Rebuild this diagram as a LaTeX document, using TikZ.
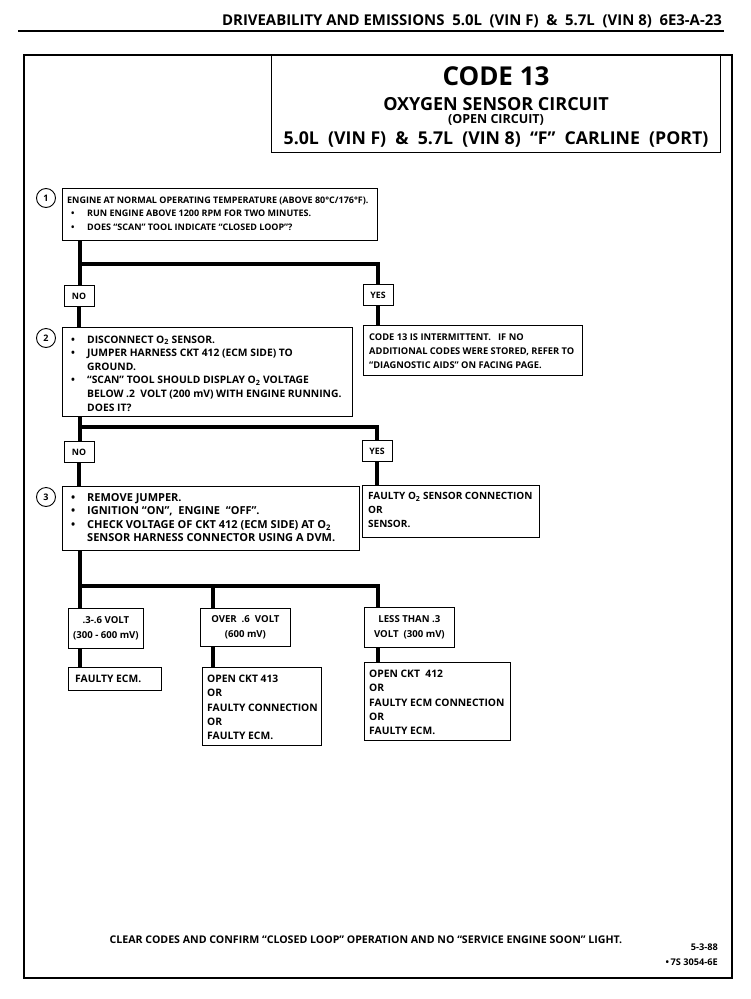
\documentclass[tikz,border=0pt]{standalone}
\usepackage{fontspec}
\setmainfont{Open Sans}
\newcommand{\bul}{\makebox[20pt][l]{\hspace{4pt}\textbullet}}
\newcommand{\ind}{\hspace{20pt}}
\newcommand{\Otwo}{O\textsubscript{2}}
\newcommand{\fs}[1]{\bfseries\fontsize{#1}{13.6}\selectfont}
\newcommand{\fsl}[1]{\bfseries\fontsize{#1}{14.3}\selectfont}
\begin{document}
\begin{tikzpicture}[x=1pt,y=-1pt,
  box/.style={draw, line width=0.8pt, inner sep=0pt, anchor=north west},
  cbox/.style={box, align=center, font=\bfseries\fontsize{9.6}{14.5}\selectfont},
  txt/.style={align=left, anchor=north west, inner sep=0pt},
  lbl/.style={draw, line width=0.8pt, inner sep=0pt, minimum width=30pt, minimum height=21pt, font=\bfseries\fontsize{8.8}{10}\selectfont},
  num/.style={draw, circle, line width=0.9pt, minimum size=19pt, inner sep=0pt, font=\bfseries\fontsize{9}{10}\selectfont},
  conn/.style={line width=3.6pt, line join=miter}]
\useasboundingbox (0,0) rectangle (750,999);
% header
\node[anchor=base east, inner sep=0pt, font=\bfseries\fontsize{14.9}{15}\selectfont] (hdr) at (722,25)
  {DRIVEABILITY AND EMISSIONS\ \ 5.0L\ \ (VIN F)\ \ \&\ \ 5.7L\ \ (VIN 8)\ \ 6E3-A-23};
\draw[line width=1.3pt] (18,31) -- (724,31);
% frame
\draw[line width=1.8pt] (24,55) rectangle (732,978);
\node[box, line width=1.2pt, minimum width=449pt, minimum height=97pt] (title) at (271,55) {};
\node[font=\bfseries\fontsize{26}{26}\selectfont] (code) at (496,76) {CODE 13};
\node[anchor=base, inner sep=0pt, font=\bfseries\fontsize{18}{18}\selectfont] (oxy) at (496,110) {OXYGEN SENSOR CIRCUIT};
\node[anchor=base, inner sep=0pt, font=\bfseries\fontsize{12.5}{13}\selectfont] (open) at (496,123.5) {(OPEN CIRCUIT)};
\node[font=\bfseries\fontsize{17.7}{18}\selectfont] (car) at (496,139)
  {5.0L\ \ (VIN F)\ \ \&\ \ 5.7L\ \ (VIN 8)\ \ “F”\ \ CARLINE\ \ (PORT)};
% step 1
\node[num] (c1) at (46,198) {1};
\node[box, minimum width=315pt, minimum height=52pt] (b1) at (62,188) {};
\node[txt, font=\fs{9.0}] (t1) at (67,196.5) {ENGINE AT NORMAL OPERATING TEMPERATURE (ABOVE 80°C/176°F).\\
  \bul RUN ENGINE ABOVE 1200 RPM FOR TWO MINUTES.\\
  \bul DOES “SCAN” TOOL INDICATE “CLOSED LOOP”?};
\coordinate (j1) at (80,264);
\node[lbl] (no1) at (79,296) {NO};
\node[lbl] (yes1) at (378,295) {YES};
% yes 1 result
\node[box, minimum width=219pt, minimum height=50pt] (r1) at (363,325) {};
\node[txt, font=\fs{9.3}] (tr1) at (369,334) {CODE 13 IS INTERMITTENT.\ \ \ IF NO\\
  ADDITIONAL CODES WERE STORED, REFER TO\\
  “DIAGNOSTIC AIDS” ON FACING PAGE.};
% step 2
\node[num] (c2) at (46,338) {2};
\node[box, minimum width=290pt, minimum height=89pt] (b2) at (62,327) {};
\node[txt, font=\fs{10.3}] (t2) at (67,335.5) {\bul DISCONNECT \Otwo{} SENSOR.\\
  \bul JUMPER HARNESS CKT 412 (ECM SIDE) TO\\
  \ind GROUND.\\
  \bul “SCAN” TOOL SHOULD DISPLAY \Otwo{} VOLTAGE\\
  \ind BELOW .2\ \ VOLT (200 mV) WITH ENGINE RUNNING.\\
  \ind DOES IT?};
\coordinate (j2) at (80,427);
\node[lbl] (no2) at (79,452) {NO};
\node[lbl] (yes2) at (377,451) {YES};
% yes 2 result
\node[box, minimum width=177pt, minimum height=52pt] (r2) at (362,485) {};
\node[txt, font=\fs{10}] (tr2) at (368,492.5) {FAULTY \Otwo{} SENSOR CONNECTION\\ OR\\ SENSOR.};
% step 3
\node[num] (c3) at (46,497) {3};
\node[box, minimum width=297pt, minimum height=64pt] (b3) at (62,486) {};
\node[txt, font=\fs{11}] (t3) at (67,493) {\bul REMOVE JUMPER.\\
  \bul IGNITION “ON”,\ \ ENGINE\ \ “OFF”.\\
  \bul CHECK VOLTAGE OF CKT 412 (ECM SIDE) AT \Otwo\\
  \ind SENSOR HARNESS CONNECTOR USING A DVM.};
\coordinate (j3) at (80,586);
% voltage boxes
\node[cbox, minimum width=75pt, minimum height=40pt] (va) at (68,608) {.3-.6 VOLT\\(300 - 600 mV)};
\node[cbox, minimum width=90pt, minimum height=38pt] (vb) at (200,608) {OVER\ \ .6\ \ VOLT\\(600 mV)};
\node[cbox, minimum width=90pt, minimum height=40pt] (vc) at (364,607) {LESS THAN .3\\VOLT\ \ (300 mV)};
\coordinate (xb) at (213,586);
\coordinate (xc) at (378,586);
% results
\node[box, minimum width=93pt, minimum height=23pt] (ra) at (68,667) {};
\node[txt, font=\fs{10.3}] (tra) at (75,674.5) {FAULTY ECM.};
\node[box, minimum width=119pt, minimum height=78pt] (rb) at (202,667) {};
\node[txt, font=\fsl{10.3}] (trb) at (207,675) {OPEN CKT 413\\ OR\\ FAULTY CONNECTION\\ OR\\ FAULTY ECM.};
\node[box, minimum width=146pt, minimum height=78pt] (rc) at (364,662) {};
\node[txt, font=\fsl{10.3}] (trc) at (369,670) {OPEN CKT\ \ 412\\ OR\\ FAULTY ECM CONNECTION\\ OR\\ FAULTY ECM.};
% connectors
\draw[conn] (b1.south -| j1) -- (j1) -| (yes1.north);
\draw[conn] (j1) -- (j1 |- no1.north);
\draw[conn] (no1.south) -- (no1.south |- b2.north);
\draw[conn] (yes1.south) -- (yes1.south |- r1.north);
\draw[conn] (b2.south -| j2) -- (j2) -| (yes2.north);
\draw[conn] (j2) -- (j2 |- no2.north);
\draw[conn] (no2.south) -- (no2.south |- b3.north);
\draw[conn] (yes2.south) -- (yes2.south |- r2.north);
\draw[conn] (b3.south -| j3) -- (j3) -- (xc) -- (xc |- vc.north);
\draw[conn] (j3) -- (j3 |- va.north);
\draw[conn] (xb) -- (xb |- vb.north);
\draw[conn] (va.south -| j3) -- (j3 |- ra.north);
\draw[conn] (vb.south -| xb) -- (xb |- rb.north);
\draw[conn] (vc.south -| xc) -- (xc |- rc.north);
% footer
\node[anchor=base, inner sep=0pt, font=\bfseries\fontsize{10.6}{10}\selectfont] (foot) at (366,943)
  {CLEAR CODES AND CONFIRM “CLOSED LOOP” OPERATION AND NO “SERVICE ENGINE SOON” LIGHT.};
\node[anchor=base east, inner sep=0pt, font=\bfseries\fontsize{9.2}{9}\selectfont] (date) at (718,950) {5-3-88};
\node[anchor=base east, inner sep=0pt, font=\bfseries\fontsize{9.2}{9}\selectfont] (ref) at (718,965) {\textbullet\,7S 3054-6E};
\end{tikzpicture}
\end{document}
